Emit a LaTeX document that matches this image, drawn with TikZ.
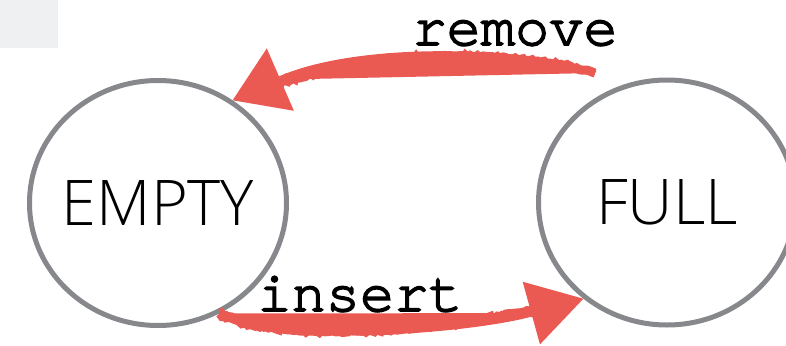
\documentclass[tikz,border=0pt]{standalone}
\usepackage{fontspec}
\usetikzlibrary{shapes.geometric,arrows.meta,decorations.pathmorphing}
\newfontfamily\statefont{Open Sans}[UprightFont=* Light]
\newfontfamily\codefont{texgyrecursor-regular.otf}[FakeBold=3]
\definecolor{ringgray}{HTML}{86888C}
\definecolor{brushred}{HTML}{EA5A52}
\definecolor{panelgray}{HTML}{EEF0F2}
\tikzset{
  state/.style={ellipse, draw=ringgray, line width=5pt, fill=white,
    minimum width=257pt, minimum height=245pt,
    inner xsep=-40pt, inner ysep=0pt,
    font=\statefont\fontsize{63}{68}\selectfont},
  oplabel/.style={anchor=base, inner sep=0pt,
    font=\codefont\fontsize{57}{62}\selectfont},
  brush/.style={draw=brushred, fill=brushred, line width=7pt},
  % ragged brush edge along the shaft, stopping where the head begins
  rough/.style={draw=brushred, line width=#1, decorate,
    decoration={random steps, segment length=2pt, amplitude=1.1pt,
      post=moveto, post length=48pt}}
}
\begin{document}
\begin{tikzpicture}[x=1pt,y=-1pt]
  \pgfmathsetseed{11}
  \useasboundingbox (0,0) rectangle (786,345);
  % corner tab
  \fill[panelgray] (0,0) rectangle (58,48);

  % states
  \node[state] (empty) at (158,203) {EMPTY};
  \node[state] (full) at (667,202.5) {FULL};

  % labels
  \node[oplabel] (rmlabel) at (515,45) {remove};
  \node[oplabel] (inlabel) at (360,311) {insert};

  % free end of the remove stroke
  \coordinate (rmstart) at (595,73);

  % remove: FULL -> EMPTY
  \draw[brush, -{Triangle[length=52pt,width=68pt,line width=0pt]}]
    (rmstart) .. controls (520,50) and (360,45) .. (empty.54);
  \draw[rough=9pt]
    (rmstart) .. controls (520,50) and (360,45) .. (empty.54);
  \draw[rough=5pt]
    (rmstart) .. controls (520,50) and (360,45) .. (empty.54);

  % insert: EMPTY -> FULL
  \draw[brush, -{Triangle[length=54pt,width=65pt,line width=0pt]}]
    (empty.-61) .. controls (280,345) and (470,330) .. (full.229);
  \draw[rough=10pt]
    (empty.-61) .. controls (280,345) and (470,330) .. (full.229);
  \draw[rough=5pt]
    (empty.-61) .. controls (280,345) and (470,330) .. (full.229);
\end{tikzpicture}
\end{document}
